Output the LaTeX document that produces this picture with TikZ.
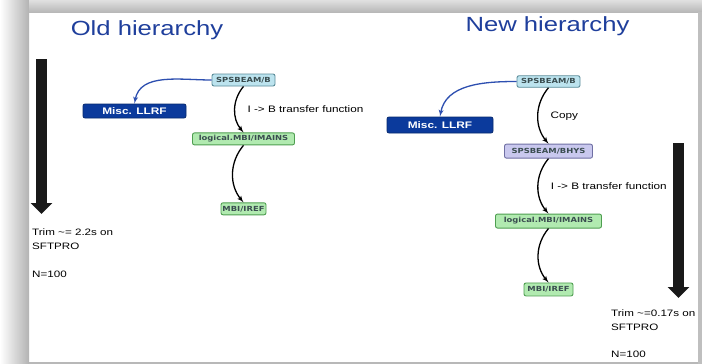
\documentclass[tikz,border=0pt]{standalone}
\usepackage{fontspec}
\setmainfont{Liberation Sans}[FakeStretch=1.25]
\newfontfamily\boxfont{DejaVu Sans}[FakeStretch=1.2]
\usepackage{xcolor}
\usetikzlibrary{positioning,shapes,arrows,arrows.meta}

\definecolor{headblue}{HTML}{1F3F9C}
\definecolor{llrfblue}{HTML}{0B3A9C}
\definecolor{beamfill}{HTML}{BCE3EE}
\definecolor{beamline}{HTML}{5B8C99}
\definecolor{hysfill}{HTML}{C9C8EE}
\definecolor{hysline}{HTML}{6F6FA3}
\definecolor{mbifill}{HTML}{B1EAB0}
\definecolor{mbiline}{HTML}{4E9E50}
\definecolor{boxtext}{HTML}{3A4D50}
\definecolor{linkblue}{HTML}{2D4FB0}

\begin{document}
\begin{tikzpicture}[x=1pt, y=-1pt, >=latex',
  devbox/.style={draw, rounded corners=2pt, line width=0.9pt, minimum height=12pt, inner sep=1pt,
    font=\boxfont\bfseries\fontsize{7}{8}\selectfont, text=boxtext},
  beambox/.style={devbox, fill=beamfill, draw=beamline},
  hysbox/.style={devbox, fill=hysfill, draw=hysline},
  mbibox/.style={devbox, fill=mbifill, draw=mbiline},
  llrfbox/.style={draw=llrfblue!70!black, fill=llrfblue, rounded corners=2pt, line width=0.8pt, inner sep=1pt,
    text=white, font=\bfseries\fontsize{9.5}{11}\selectfont},
  flow/.style={->, line width=1.3pt},
  flowtag/.style={right=12pt, inner sep=0pt, font=\fontsize{9.4}{11}\selectfont},
  remark/.style={anchor=north west, align=left, inner sep=0pt, font=\fontsize{9.3}{14}\selectfont},
  headline/.style={anchor=base, font=\fontsize{20.5}{22}\selectfont, text=headblue},
  bigarrow/.style={line width=11pt, black!90, -{Triangle[width=21pt,length=11pt]}}]

  % slide frame
  \fill[white] (0,0) rectangle (702,364);
  \shade[left color=white, right color=black!30] (0,0) rectangle (29,364);
  \shade[top color=black!12, bottom color=black!28] (29,0) rectangle (702,12);
  \fill[black!25] (698,12) rectangle (702,364);
  \fill[black!28] (29,362) rectangle (698,364);

  \node[headline] (oldhead) at (147,35) {Old hierarchy};
  \node[headline] (newhead) at (547.5,31) {New hierarchy};

  % old hierarchy
  \node[beambox, minimum width=63pt] (oldB) at (243.5,80) {SPSBEAM/B};
  \node[mbibox, minimum width=102pt, below=46pt of oldB] (oldMains) {logical.MBI/IMAINS};
  \node[mbibox, minimum width=45pt, below=57pt of oldMains] (oldIref) {MBI/IREF};
  \node[llrfbox, minimum width=103pt, minimum height=14pt] (oldLlrf) at (134.5,111) {Misc. LLRF};

  \path[flow] (oldB.south) edge [bend right=40] node[flowtag] {I -> B transfer function} (oldMains.north);
  \path[flow] (oldMains.south) edge [bend right=40] (oldIref.north);
  \draw[flow, linkblue] (oldB.west) to[out=180, in=80] (oldLlrf.north);

  \coordinate (oldTop) at (41.5,59);
  \coordinate (oldTip) at (41.5,214);
  \draw[bigarrow] (oldTop) -- (oldTip);
  \node[remark] (oldNote) at (32,228.5) {Trim \textasciitilde= 2.2s on\\SFTPRO\\[14pt]N=100};

  % new hierarchy
  \node[beambox, minimum width=63pt, minimum height=11.5pt] (newB) at (548.5,81.5) {SPSBEAM/B};
  \node[hysbox, minimum width=88pt, minimum height=14pt, below=56pt of newB] (newHys) {SPSBEAM/BHYS};
  \node[mbibox, minimum width=106pt, minimum height=14pt, below=55pt of newHys] (newMains) {logical.MBI/IMAINS};
  \node[mbibox, minimum width=49pt, minimum height=13pt, below=54pt of newMains] (newIref) {MBI/IREF};
  \node[llrfbox, minimum width=106pt, minimum height=16pt] (newLlrf) at (440,125) {Misc. LLRF};

  \path[flow] (newB.south) edge [bend right=40] node[flowtag] {Copy} (newHys.north);
  \path[flow] (newHys.south) edge [bend right=40] node[flowtag] {I -> B transfer function} (newMains.north);
  \path[flow] (newMains.south) edge [bend right=40] (newIref.north);
  \draw[flow, linkblue] (newB.west) to[out=180, in=80] (newLlrf.north);

  \coordinate (newTop) at (678.5,143);
  \coordinate (newTip) at (678.5,298);
  \draw[bigarrow] (newTop) -- (newTip);
  \node[remark] (newNote) at (611,309.5) {Trim \textasciitilde=0.17s on\\SFTPRO\\[13pt]N=100};
\end{tikzpicture}
\end{document}
